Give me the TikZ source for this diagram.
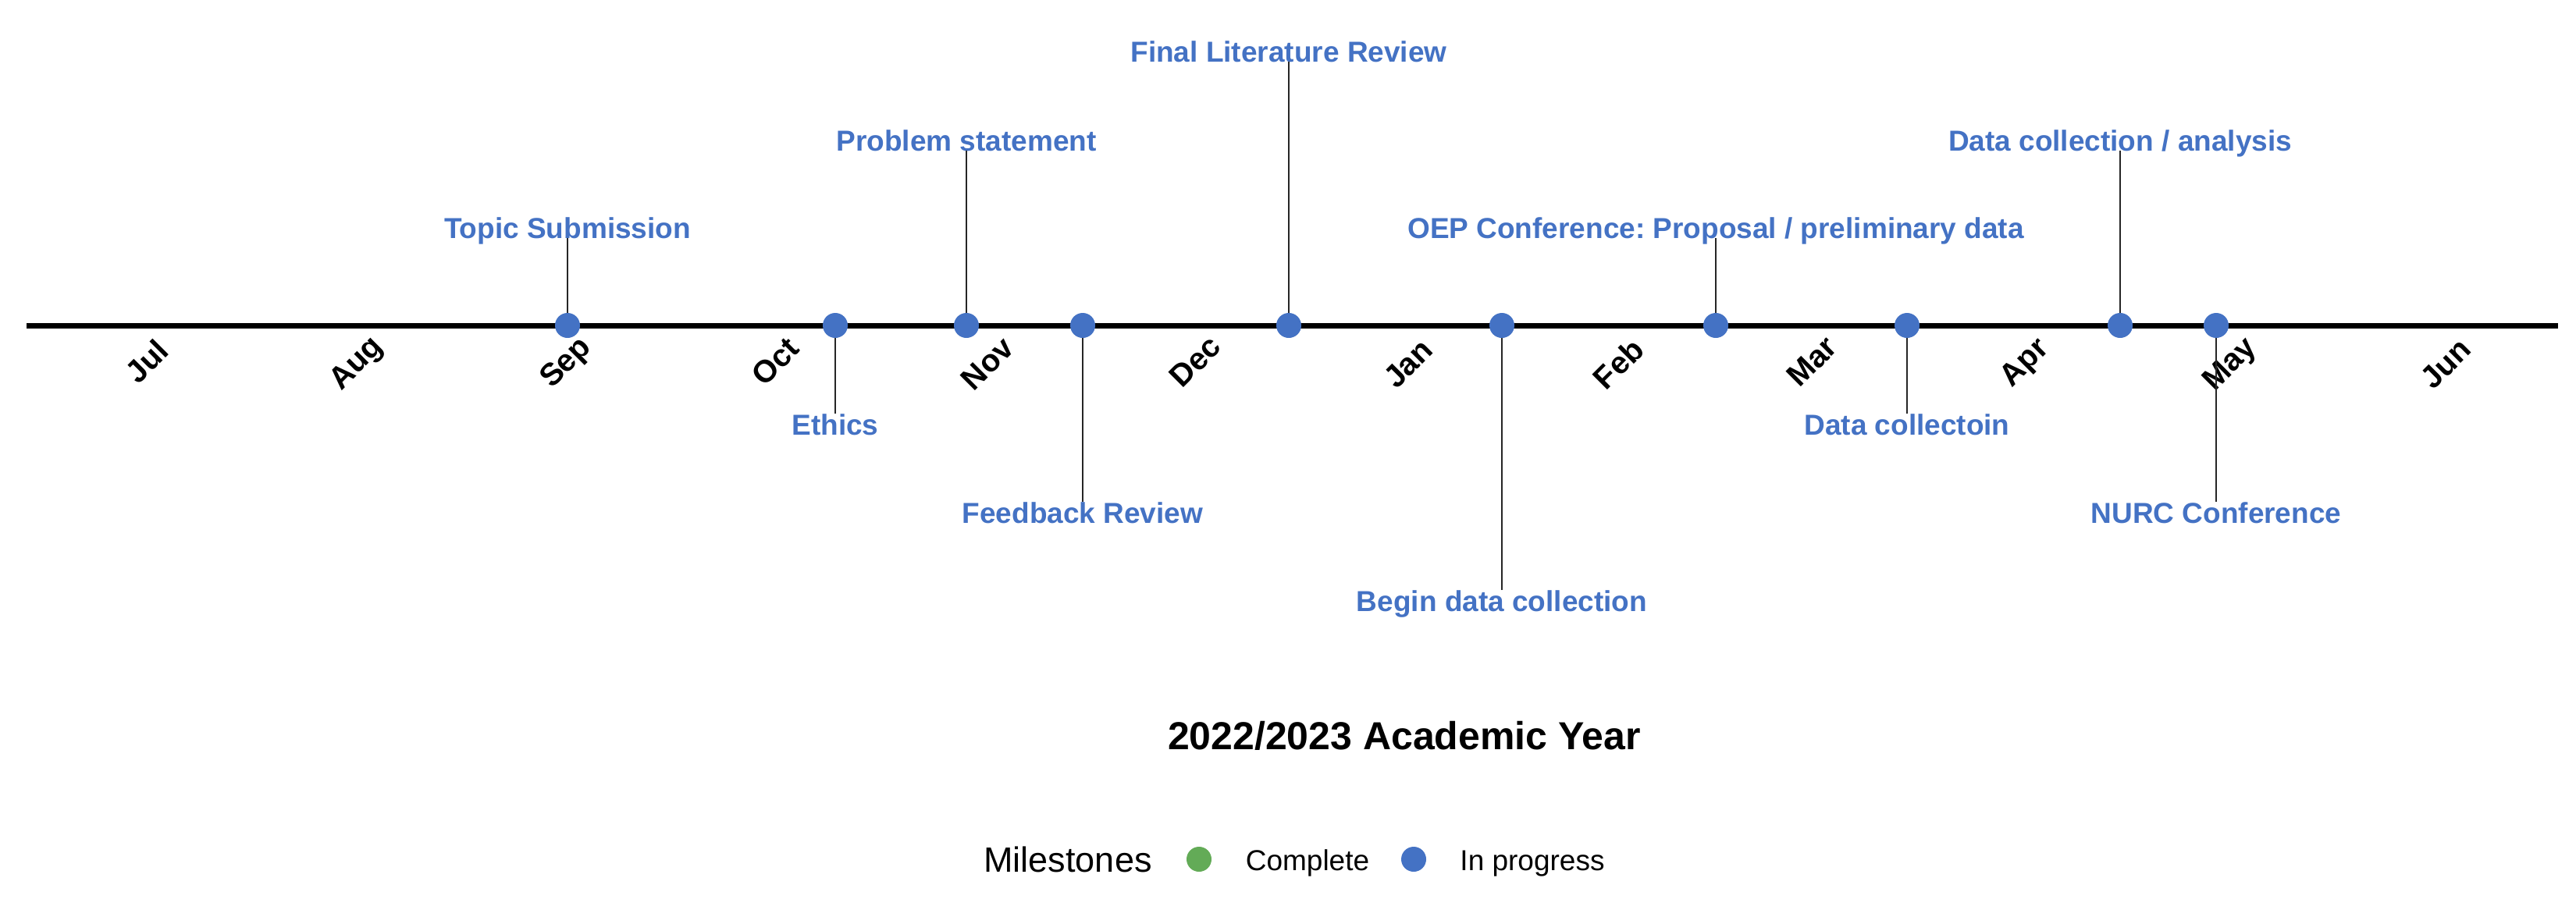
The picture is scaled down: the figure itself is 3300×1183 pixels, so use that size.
\documentclass[tikz,border=0pt]{standalone}
\usepackage{fontspec}
\setmainfont{Liberation Sans}
\definecolor{mblue}{HTML}{4472C4}
\definecolor{mgreen}{HTML}{63AB57}
\frenchspacing
\begin{document}
\begin{tikzpicture}[x=1pt,y=-1pt,
  dot/.style={circle,fill=mblue,minimum size=32pt,inner sep=0pt},
  lbl/.style={text=mblue,font=\fontsize{37}{40}\selectfont\bfseries,inner sep=0pt,anchor=base},
  mon/.style={font=\fontsize{40}{44}\selectfont\bfseries,rotate=45,inner sep=0pt},
  conn/.style={line width=1.5pt,black!85},
  leg/.style={font=\fontsize{37}{40}\selectfont,inner sep=0pt,anchor=base}]
\useasboundingbox[fill=white] (0,0) rectangle (3300,1183);
% axis
\coordinate (axL) at (34,417);
\coordinate (axR) at (3277,417);
\draw[line width=7pt] (axL) -- (axR);
% months
\node[mon] (mJul) at (188,463) {Jul};
\node[mon] (mAug) at (458,467) {Aug};
\node[mon] (mSep) at (726,466) {Sep};
\node[mon] (mOct) at (993,463) {Oct};
\node[mon] (mNov) at (1265,466) {Nov};
\node[mon] (mDec) at (1531,463) {Dec};
\node[mon] (mJan) at (1804,466) {Jan};
\node[mon] (mFeb) at (2073,466) {Feb};
\node[mon] (mMar) at (2321,463) {Mar};
\node[mon] (mApr) at (2595,466) {Apr};
\node[mon] (mMay) at (2858,468) {May};
\node[mon] (mJun) at (3133,466) {Jun};
% milestone dots
\node[dot] (d1) at (727,417) {};
\node[dot] (d2) at (1070,417) {};
\node[dot] (d3) at (1238,417) {};
\node[dot] (d4) at (1387,417) {};
\node[dot] (d5) at (1651,417) {};
\node[dot] (d6) at (1924,417) {};
\node[dot] (d7) at (2198,417) {};
\node[dot] (d8) at (2443,417) {};
\node[dot] (d9) at (2716,417) {};
\node[dot] (d10) at (2839,417) {};
% labels
\node[lbl] (l1) at (727,305) {Topic Submission};
\node[lbl] (l2) at (1070,557) {Ethics};
\node[lbl] (l3) at (1238,193) {Problem statement};
\node[lbl] (l4) at (1387,670) {Feedback Review};
\node[lbl] (l5) at (1651,79) {Final Literature Review};
\node[lbl] (l6) at (1924,783) {Begin data collection};
\node[lbl] (l7) at (2198,305) {OEP Conference: Proposal / preliminary data};
\node[lbl] (l8) at (2443,557) {Data collectoin};
\node[lbl] (l9) at (2716,193) {Data collection / analysis};
\node[lbl] (l10) at (2839,670) {NURC Conference};
% connectors
\draw[conn] (d1.north) -- (l1.base);
\draw[conn] (d3.north) -- (l3.base);
\draw[conn] (d5.north) -- (l5.base);
\draw[conn] (d7.north) -- (l7.base);
\draw[conn] (d9.north) -- (l9.base);
\draw[conn] (d2.south) -- (l2.north);
\draw[conn] (d4.south) -- (l4.north);
\draw[conn] (d6.south) -- (l6.north);
\draw[conn] (d8.south) -- (l8.north);
\draw[conn] (d10.south) -- (l10.north);
% title
\node[font=\fontsize{50}{56}\selectfont\bfseries,inner sep=0pt,anchor=base] (title) at (1799,960) {2022/2023 Academic Year};
% legend
\node[leg,font=\fontsize{45}{50}\selectfont] (legT) at (1368,1117) {Milestones};
\node[circle,fill=mgreen,minimum size=32pt,inner sep=0pt] (legG) at (1536,1101) {};
\node[leg] (legC) at (1675,1115) {Complete};
\node[circle,fill=mblue,minimum size=32pt,inner sep=0pt] (legB) at (1811,1101) {};
\node[leg] (legP) at (1963,1115) {In progress};
\end{tikzpicture}
\end{document}
